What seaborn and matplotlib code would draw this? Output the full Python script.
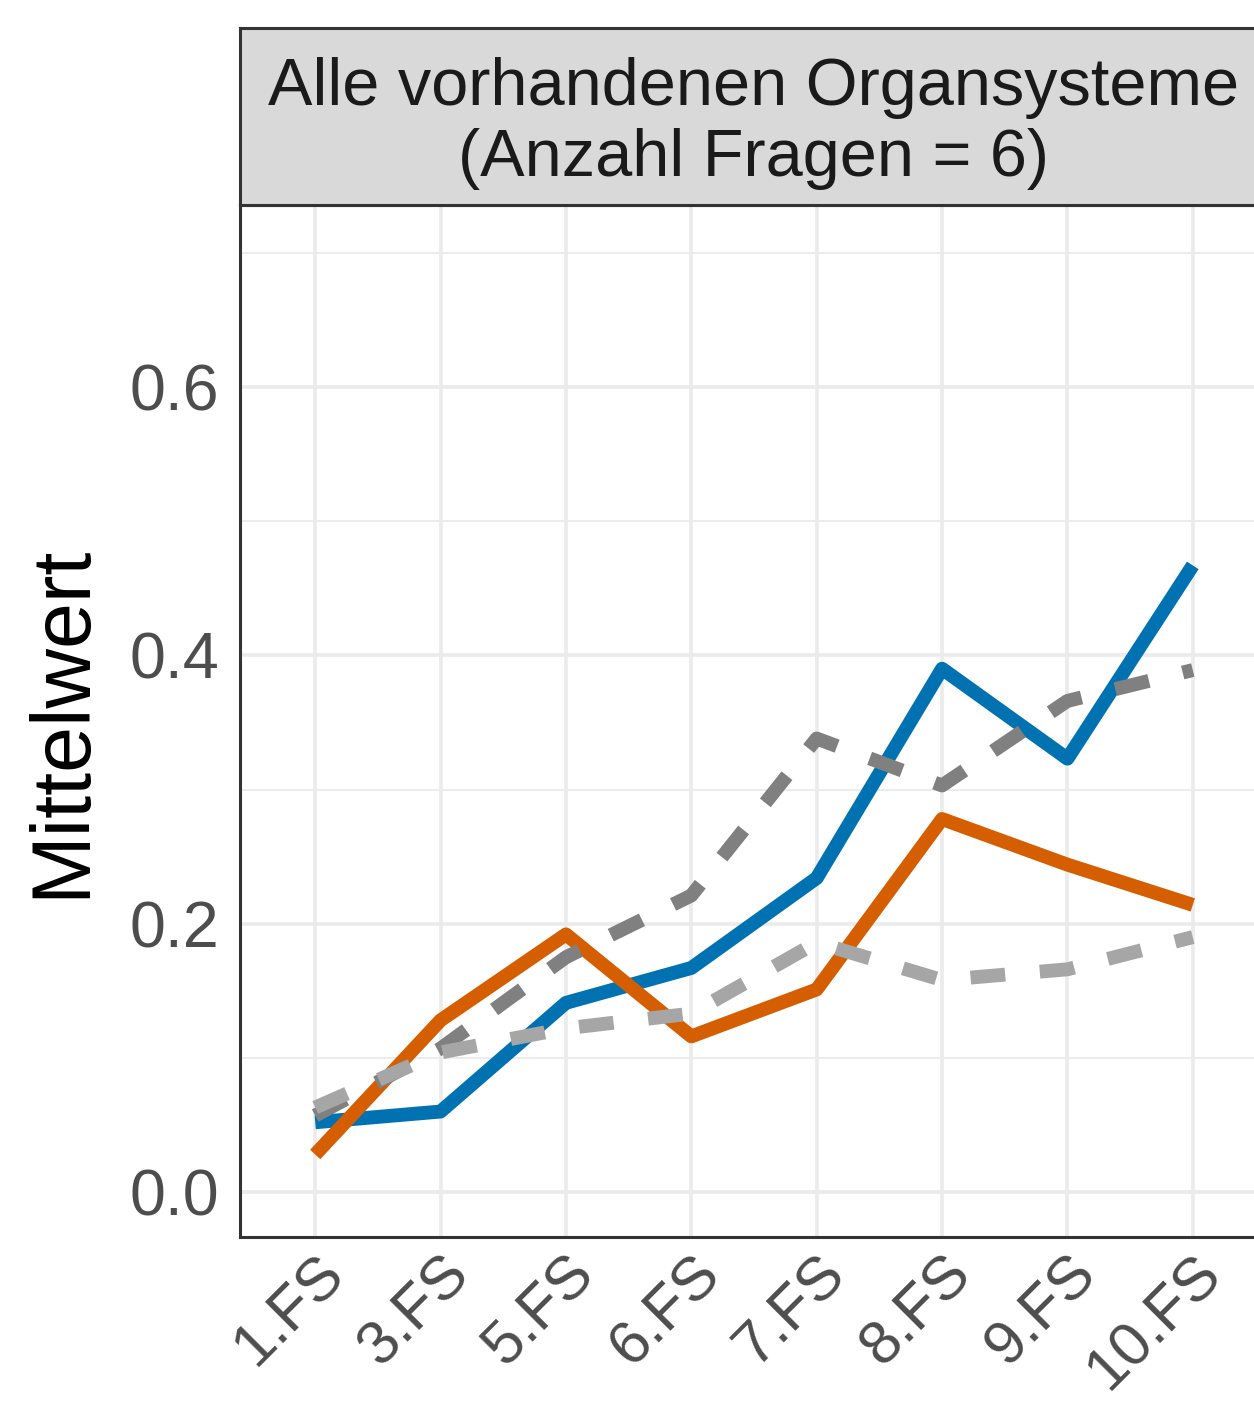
import numpy as np
import pandas as pd
import seaborn as sns
import matplotlib.pyplot as plt

# Semester (x axis)
semester = ["1.FS", "3.FS", "5.FS", "6.FS", "7.FS", "8.FS", "9.FS", "10.FS"]

# Mittelwerte je Gruppe
blau = [0.052, 0.060, 0.141, 0.167, 0.234, 0.390, 0.323, 0.467]
orange = [0.028, 0.128, 0.192, 0.116, 0.151, 0.278, 0.244, 0.214]
grau_dunkel = [0.057, 0.107, 0.175, 0.221, 0.338, 0.303, 0.366, 0.389]
grau_hell = [0.063, 0.104, 0.122, 0.133, 0.186, 0.158, 0.166, 0.190]

gruppen = ["blau", "orange", "grau_dunkel", "grau_hell"]
farben = {"blau": "#0072B2", "orange": "#D55E00",
          "grau_dunkel": "#808080", "grau_hell": "#A6A6A6"}
striche = {"blau": "", "orange": "", "grau_dunkel": (2.5, 2.5), "grau_hell": (2.5, 2.5)}

df = pd.DataFrame({
    "FS": semester * 4,
    "Mittelwert": blau + orange + grau_dunkel + grau_hell,
    "Gruppe": sum([[g] * len(semester) for g in gruppen], []),
})
df["pos"] = df["FS"].map({s: i for i, s in enumerate(semester)})

sns.set_style("white")
plt.rcParams["font.family"] = ["Liberation Sans", "DejaVu Sans"]
plt.rcParams["lines.solid_capstyle"] = "butt"
plt.rcParams["lines.dash_capstyle"] = "butt"
plt.rcParams["lines.solid_joinstyle"] = "round"

W, H = 1254, 1403
fig = plt.figure(figsize=(W / 100, H / 100), dpi=100)

left, right, top, bottom = 240, 1268, 205, 1237
ax = fig.add_axes([left / W, 1 - bottom / H, (right - left) / W, (bottom - top) / H])

for g in gruppen:
    sub = df[df["Gruppe"] == g]
    sns.lineplot(data=sub, x="pos", y="Mittelwert", color=farben[g],
                 linewidth=10, ax=ax, legend=False)
    if striche[g] != "":
        ax.lines[-1].set_dashes(striche[g])

ax.set_xlim(-0.6, len(semester) - 1 + 0.6)
ax.set_ylim(-0.0335, 0.7356)
ax.set_xticks(range(len(semester)))
ax.set_xticklabels(semester)
ax.set_yticks([0.0, 0.2, 0.4, 0.6])
ax.set_yticklabels(["0.0", "0.2", "0.4", "0.6"])
ax.set_yticks([0.1, 0.3, 0.5, 0.7], minor=True)
ax.grid(True, which="major", color="#EBEBEB", linewidth=2.6)
ax.grid(True, which="minor", axis="y", color="#EBEBEB", linewidth=1.3)
ax.set_axisbelow(True)
for sp in ax.spines.values():
    sp.set_color("#333333")
    sp.set_linewidth(2.2)

ax.tick_params(axis="both", which="major", length=9, width=2.2, color="#333333",
               labelsize=46.5, labelcolor="#4D4D4D", pad=6)
ax.tick_params(axis="x", which="major", labelsize=44, pad=-3)
ax.tick_params(axis="y", which="minor", length=0)
ax.set_xlabel("")
ax.set_ylabel("Mittelwert", fontsize=59.5, color="black", labelpad=20)

for lab in ax.get_xticklabels():
    lab.set_rotation(45)
    lab.set_ha("right")
    lab.set_va("top")
    lab.set_rotation_mode("anchor")

# facet strip
strip = fig.add_axes([left / W, 1 - top / H, (right - left) / W, 177 / H])
strip.set_facecolor("#D9D9D9")
strip.set_xticks([])
strip.set_yticks([])
for sp in strip.spines.values():
    sp.set_color("#333333")
    sp.set_linewidth(2.2)
strip.text(0.5, 0.46, "Alle vorhandenen Organsysteme\n(Anzahl Fragen = 6)",
           ha="center", va="center", fontsize=48, color="#1A1A1A",
           linespacing=1.2, transform=strip.transAxes)

fig.savefig("out.png", dpi=100)
